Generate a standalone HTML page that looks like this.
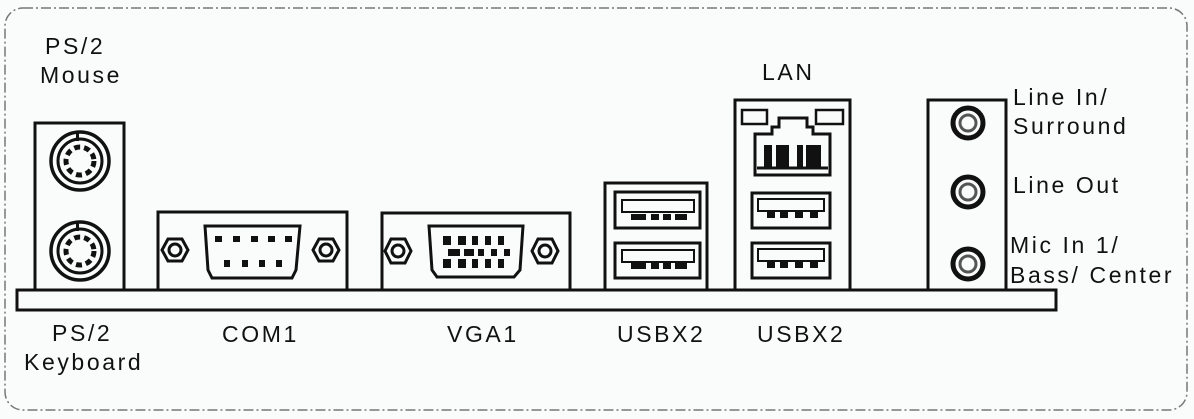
<!DOCTYPE html>
<html><head><style>
html,body{margin:0;padding:0;background:#fafcfb;}
svg{display:block}
text{font-family:"Liberation Sans",sans-serif;font-size:23px;fill:#111;letter-spacing:2.6px}
</style></head><body>
<svg width="1194" height="419" viewBox="0 0 1194 419">
<rect x="5" y="8" width="1182" height="402" rx="18" fill="none" stroke="#777" stroke-width="1.5" stroke-dasharray="10 3 2 3"/>
<g fill="none" stroke="#111" stroke-width="3">
<rect x="17" y="290" width="1039" height="20"/>
<rect x="35" y="123" width="89" height="167" fill="#fafcfb"/>
<rect x="158" y="212" width="189" height="78" fill="#fafcfb"/>
<rect x="382" y="213" width="188" height="77" fill="#fafcfb"/>
<rect x="605" y="183" width="102" height="107" fill="#fafcfb"/>
<rect x="735" y="100" width="115" height="190" fill="#fafcfb"/>
<rect x="928" y="100" width="78" height="190" fill="#fafcfb"/>
<!-- PS/2 -->
<circle cx="80" cy="161" r="29" stroke-width="3.5"/><circle cx="80" cy="161" r="22" stroke-width="3"/>
<circle cx="80" cy="251" r="29" stroke-width="3.5"/><circle cx="80" cy="251" r="22" stroke-width="3"/>
<circle cx="80" cy="161" r="14" stroke-width="5" stroke-dasharray="6 4"/>
<circle cx="80" cy="251" r="14" stroke-width="5" stroke-dasharray="6 4"/>
<!-- COM -->
<polygon points="162,250 168,239 182,239 188,250 182,261 168,261"/><circle cx="175" cy="250" r="6"/>
<polygon points="313,250 319,239 333,239 339,250 333,261 319,261"/><circle cx="326" cy="250" r="6"/>
<path d="M205 226 H300 L296 270 L292 278 H212 L208 270 Z"/>
<!-- VGA -->
<polygon points="385,251 391,239 405,239 411,251 405,263 391,263"/><circle cx="398" cy="251" r="6"/>
<polygon points="532,251 538,239 552,239 558,251 552,263 538,263"/><circle cx="545" cy="251" r="6"/>
<path d="M429 226 H523 L520 270 L514 277 H437 L432 270 Z"/>
<!-- USB -->
<rect x="615" y="192" width="85" height="36"/><rect x="622" y="200" width="72" height="12" stroke-width="2"/>
<rect x="615" y="243" width="85" height="35"/><rect x="622" y="250" width="72" height="12" stroke-width="2"/>
<rect x="752" y="193" width="78" height="35"/><rect x="758" y="199" width="66" height="12" stroke-width="2"/>
<rect x="752" y="243" width="78" height="35"/><rect x="758" y="249" width="66" height="12" stroke-width="2"/>
<!-- LAN -->
<rect x="742" y="110" width="25" height="14" stroke-width="2.5"/>
<rect x="816" y="110" width="27" height="14" stroke-width="2.5"/>
<path d="M755 175 V134 H772 V127 H779 V118 H807 V127 H813 V134 H830 V175 Z"/>
<line x1="757" y1="168" x2="828" y2="168"/>
<!-- audio -->
<circle cx="968" cy="123" r="15" stroke-width="5"/><circle cx="968" cy="123" r="8" stroke="#555" stroke-width="3"/>
<circle cx="968" cy="192" r="15" stroke-width="5"/><circle cx="968" cy="192" r="8" stroke="#555" stroke-width="3"/>
<circle cx="968" cy="264" r="15" stroke-width="5"/><circle cx="968" cy="264" r="8" stroke="#555" stroke-width="3"/>
</g>
<g fill="#111">
<rect x="76" y="131" width="3" height="10"/><rect x="76" y="221" width="3" height="10"/>
<rect x="764" y="145" width="8" height="22"/><rect x="776" y="145" width="13" height="22"/><rect x="797" y="145" width="6" height="22"/><rect x="806" y="145" width="15" height="22"/>
<!-- COM pins -->
<rect x="215" y="236" width="7" height="6"/><rect x="233" y="236" width="7" height="6"/><rect x="251" y="236" width="7" height="6"/><rect x="268" y="236" width="7" height="6"/><rect x="285" y="236" width="7" height="6"/>
<rect x="224" y="260" width="6" height="7"/><rect x="242" y="260" width="6" height="7"/><rect x="259" y="260" width="6" height="7"/><rect x="276" y="260" width="6" height="7"/>
<!-- VGA pins -->
<rect x="443" y="236" width="8" height="9"/><rect x="458" y="236" width="8" height="9"/><rect x="472" y="236" width="6" height="9"/><rect x="485" y="236" width="6" height="9"/><rect x="498" y="236" width="6" height="9"/>
<rect x="448" y="249" width="12" height="7"/><rect x="464" y="249" width="10" height="7"/><rect x="478" y="249" width="6" height="7"/><rect x="491" y="249" width="6" height="7"/><rect x="504" y="249" width="6" height="7"/>
<rect x="443" y="259" width="8" height="9"/><rect x="458" y="259" width="8" height="9"/><rect x="472" y="259" width="6" height="9"/><rect x="485" y="259" width="6" height="9"/><rect x="498" y="259" width="6" height="9"/>
<!-- USB contacts -->
<rect x="631" y="214" width="15" height="6"/><rect x="651" y="214" width="8" height="6"/><rect x="663" y="214" width="8" height="6"/><rect x="675" y="214" width="12" height="6"/>
<rect x="631" y="263" width="15" height="6"/><rect x="651" y="263" width="8" height="6"/><rect x="663" y="263" width="8" height="6"/><rect x="675" y="263" width="12" height="6"/>
<rect x="767" y="212" width="8" height="6"/><rect x="780" y="212" width="8" height="6"/><rect x="795" y="212" width="8" height="6"/><rect x="810" y="212" width="8" height="6"/>
<rect x="767" y="262" width="8" height="6"/><rect x="780" y="262" width="8" height="6"/><rect x="795" y="262" width="8" height="6"/><rect x="810" y="262" width="8" height="6"/>
</g>
<text x="45" y="54">PS/2</text>
<text x="40" y="83">Mouse</text>
<text x="762" y="80">LAN</text>
<text x="1013" y="105">Line In/</text>
<text x="1013" y="134">Surround</text>
<text x="1013" y="193">Line Out</text>
<text x="1010" y="253">Mic In 1/</text>
<text x="1010" y="283">Bass/ Center</text>
<text x="52" y="341">PS/2</text>
<text x="24" y="370">Keyboard</text>
<text x="222" y="342">COM1</text>
<text x="447" y="342">VGA1</text>
<text x="617" y="342">USBX2</text>
<text x="757" y="342">USBX2</text>
</svg>
</body></html>
